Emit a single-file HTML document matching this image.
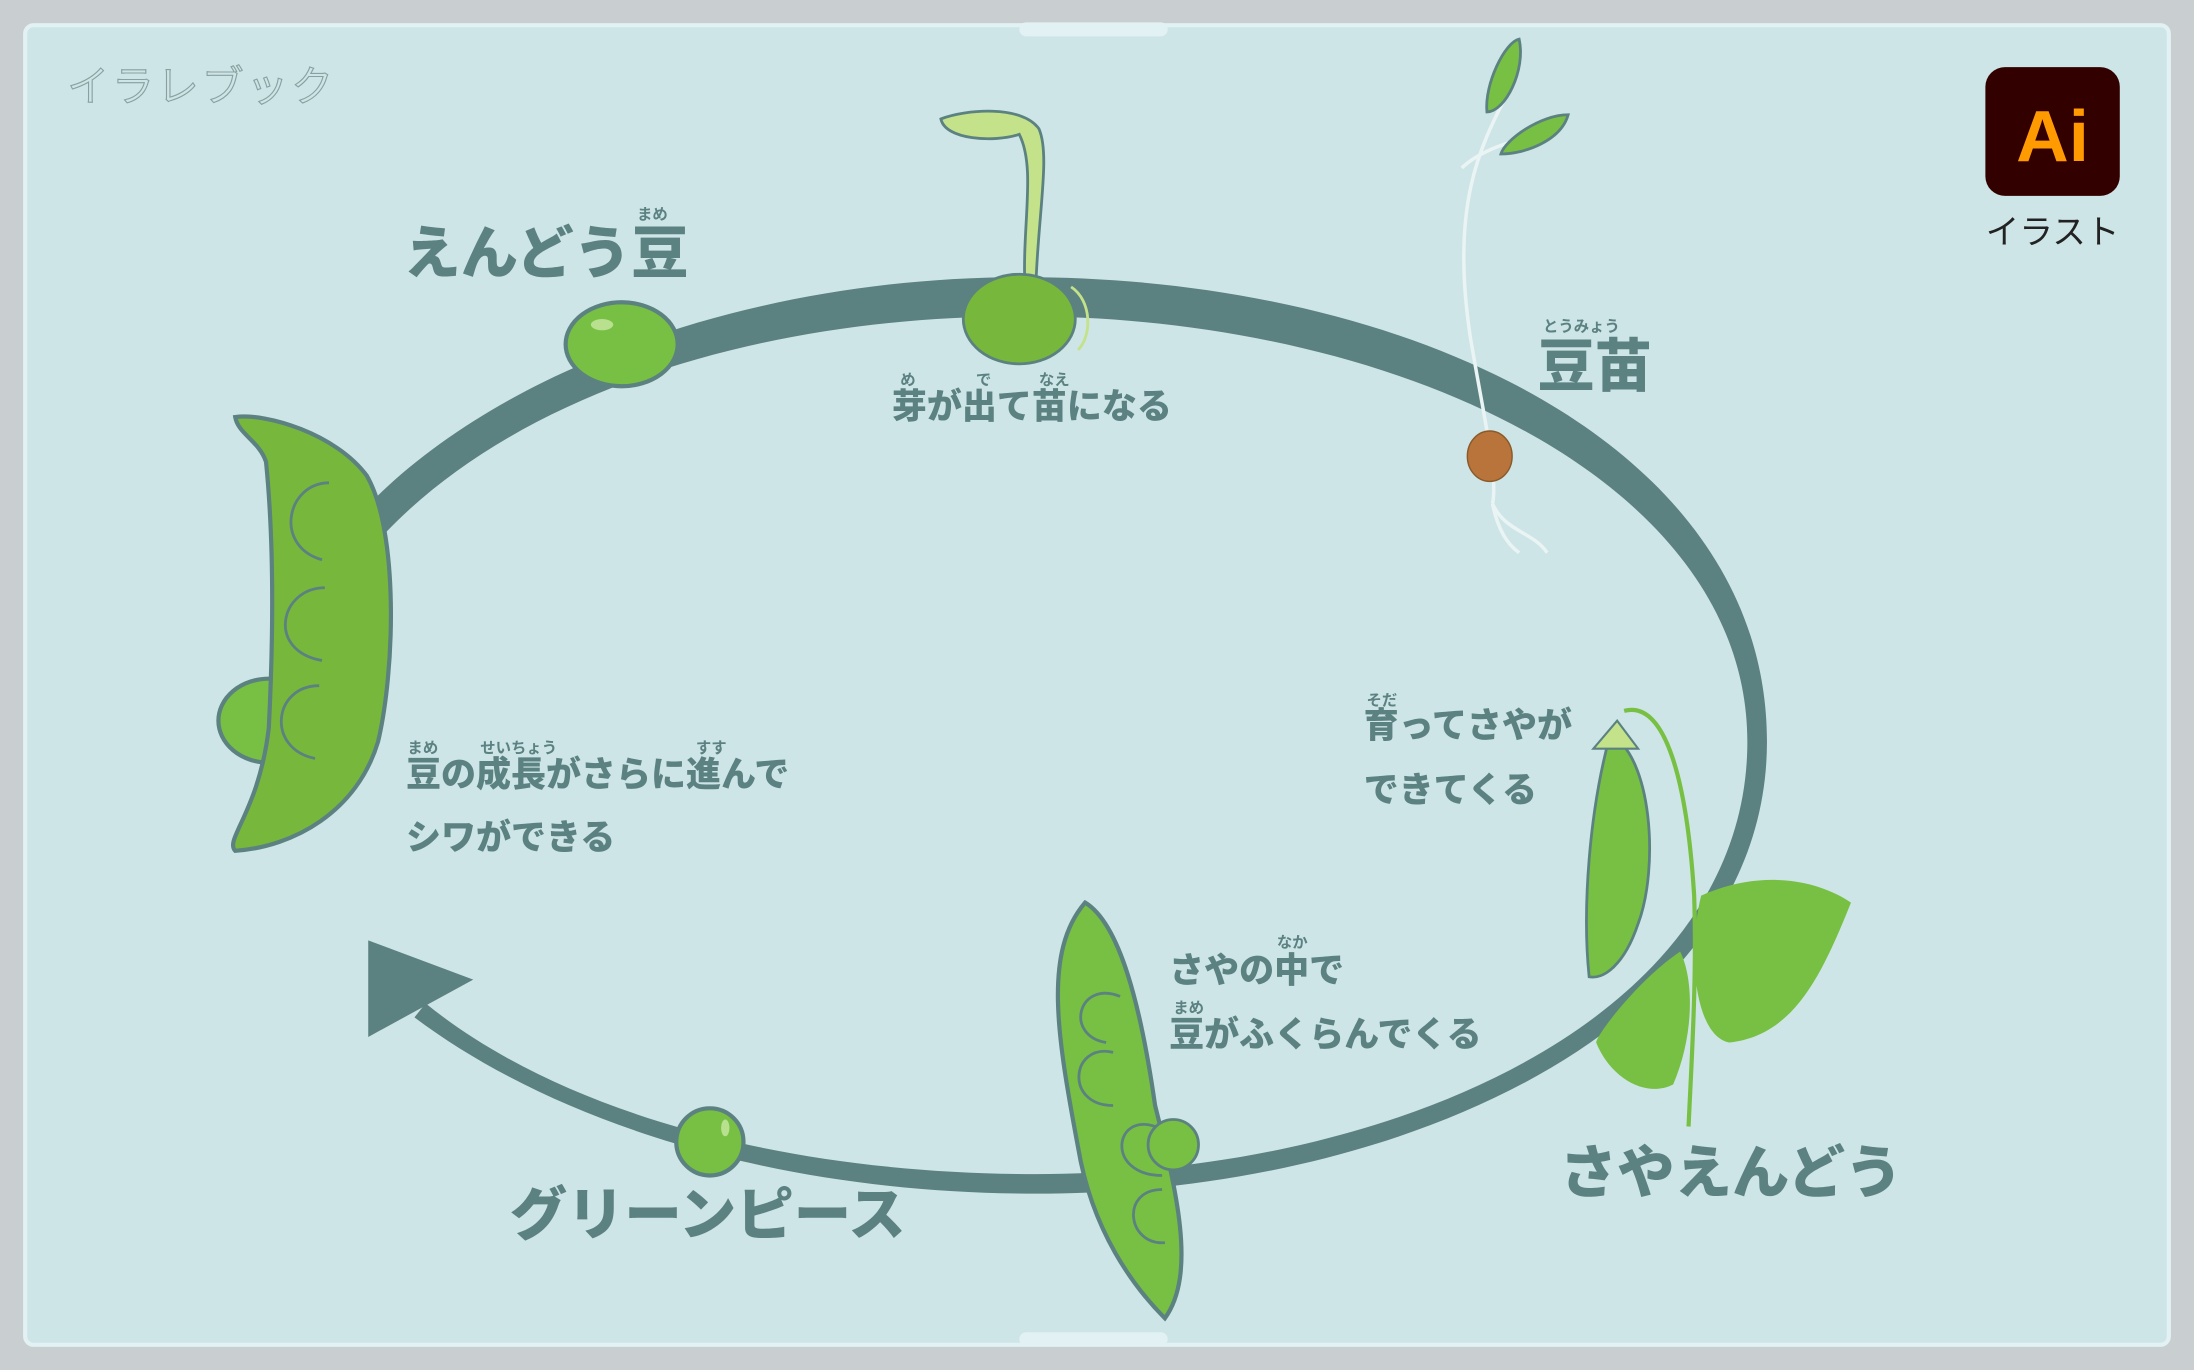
<!DOCTYPE html>
<html><head><meta charset="utf-8"><style>
html,body{margin:0;padding:0;width:2194px;height:1370px;overflow:hidden;background:#c9cfd0}
svg{display:block}
text{font-family:"Liberation Sans","Noto Sans CJK JP",sans-serif}
.t{fill:#5c8181;font-weight:900}
.r{fill:#5c8181;font-size:11px;font-weight:700}
</style></head><body>
<svg width="2194" height="1370" viewBox="0 0 1567 979" preserveAspectRatio="none" xmlns="http://www.w3.org/2000/svg">
<rect x="0" y="0" width="1567" height="979" fill="#c9cfd0"/>
<rect x="18" y="18" width="1531" height="943" rx="6" fill="#cde5e6" stroke="#e2f1f3" stroke-width="3"/>
<rect x="728" y="16" width="106" height="10" rx="5" fill="#e2f1f3"/>
<rect x="728" y="952" width="106" height="10" rx="5" fill="#e2f1f3"/>
<!-- top-left logo -->
<text x="48" y="72" font-size="30" fill="none" stroke="#8aa0a0" stroke-width="0.8" letter-spacing="2">イラレブック</text>
<!-- ring -->
<path d="M264,360 C360,262 540,198 730,198 C1010,198 1262,320 1262,530 C1262,735 1000,853 740,853 C560,853 400,805 296,727 L304,717 C400,795 560,839 740,839 C1000,839 1248,725 1248,530 C1248,345 1000,226 730,226 C540,226 370,282 276,380 Z" fill="#5c8181"/>
<polygon points="263,672 338,700 263,741" fill="#5c8181"/>
<!-- peas -->
<ellipse cx="444" cy="246" rx="40" ry="30" fill="#77c043" stroke="#5c8181" stroke-width="3"/>
<ellipse cx="430" cy="232" rx="8" ry="4" fill="#b8e08e"/>
<circle cx="507" cy="816" r="24" fill="#77c043" stroke="#5c8181" stroke-width="3"/>
<ellipse cx="518" cy="806" rx="3" ry="6" fill="#b8e08e"/>
<!-- sprouting seed -->
<path d="M740,200 C742,150 750,110 742,92 C730,75 690,78 672,85 C675,100 710,102 728,96 C740,120 730,160 732,205" fill="#c3e28a" stroke="#5c8181" stroke-width="2"/>
<ellipse cx="728" cy="228" rx="40" ry="32" fill="#77b83c" stroke="#5c8181" stroke-width="2"/>
<path d="M765,205 C780,215 780,240 770,250" fill="none" stroke="#c3e28a" stroke-width="2"/>
<!-- 豆苗 plant -->
<path d="M1080,60 C1060,100 1035,140 1050,240 C1060,300 1070,340 1066,360 M1066,360 C1075,380 1095,380 1105,395 M1066,360 C1070,380 1078,390 1085,395 M1044,120 C1060,105 1085,100 1100,95" fill="none" stroke="#eaf4f4" stroke-width="2.5"/>
<path d="M1085,28 C1075,30 1060,60 1062,80 C1075,80 1090,50 1085,28Z" fill="#77c043" stroke="#5c8181" stroke-width="2"/>
<path d="M1120,82 C1100,82 1075,100 1072,110 C1090,110 1115,100 1120,82Z" fill="#77c043" stroke="#5c8181" stroke-width="2"/>
<ellipse cx="1064" cy="326" rx="16" ry="18" fill="#b8743a" stroke="#8a5a2a" stroke-width="1"/>
<!-- left pod -->
<ellipse cx="192" cy="515" rx="36" ry="30" fill="#77c043" stroke="#5c8181" stroke-width="3"/>
<path d="M168,298 C190,295 240,310 262,340 C285,380 282,480 270,530 C255,580 210,605 168,608 C160,600 185,580 192,520 C196,440 195,380 190,330 C185,315 170,310 168,298Z" fill="#77b83c" stroke="#5c8181" stroke-width="3"/>
<path d="M235,345 C205,345 195,390 230,400 M232,420 C200,420 190,465 230,472 M228,490 C195,490 190,535 225,542" fill="none" stroke="#5c8181" stroke-width="2"/>
<!-- middle pod -->
<path d="M775,645 C800,660 815,720 825,790 C840,850 855,910 832,942 C810,920 780,880 770,820 C755,740 745,680 775,645Z" fill="#77c043" stroke="#5c8181" stroke-width="3"/>
<circle cx="838" cy="818" r="18" fill="#77c043" stroke="#5c8181" stroke-width="2"/>
<path d="M800,712 C770,700 760,740 790,745 M795,752 C765,745 760,790 795,790 M825,805 C795,795 790,840 830,840 M830,850 C800,850 805,890 832,888" fill="none" stroke="#5c8181" stroke-width="2"/>
<!-- right plant -->
<path d="M1215,640 C1260,620 1300,630 1322,645 C1300,700 1280,740 1235,745 C1210,740 1205,680 1215,640Z" fill="#77c043"/>
<path d="M1200,680 C1170,700 1140,740 1140,745 C1150,770 1175,785 1195,775 C1210,740 1210,700 1200,680Z" fill="#77c043"/>
<path d="M1160,508 C1190,500 1205,560 1210,640 C1212,700 1208,760 1206,805" fill="none" stroke="#77c043" stroke-width="3"/>
<path d="M1150,525 C1180,540 1185,620 1170,660 C1160,690 1145,700 1135,698 C1130,650 1135,580 1150,525Z" fill="#77c043" stroke="#5c8181" stroke-width="2"/>
<path d="M1138,535 L1155,515 L1170,535 Z" fill="#c3e28a" stroke="#5c8181" stroke-width="1.5"/>
<!-- Ai icon -->
<rect x="1418" y="48" width="96" height="92" rx="14" fill="#330000"/>
<text x="1466" y="115" font-size="52" font-weight="700" fill="#ff9a00" text-anchor="middle">Ai</text>
<text x="1466" y="174" font-size="24" fill="#222" text-anchor="middle">イラスト</text>
<!-- titles -->
<text class="t" x="288" y="195" font-size="41">えんどう豆</text>
<text class="r" x="455" y="157">まめ</text>
<text class="t" x="1098" y="276" font-size="41">豆苗</text>
<text class="r" x="1102" y="237">とうみょう</text>
<text class="t" x="1114" y="852" font-size="41">さやえんどう</text>
<text class="t" x="364" y="882" font-size="41">グリーンピース</text>
<!-- descriptions -->
<text class="t" x="637" y="299" font-size="25">芽が出て苗になる</text>
<text class="r" x="643" y="275">め</text><text class="r" x="697" y="275">で</text><text class="r" x="742" y="275">なえ</text>
<text class="t" x="290" y="562" font-size="25">豆の成長がさらに進んで</text>
<text class="r" x="291" y="538">まめ</text><text class="r" x="343" y="538">せいちょう</text><text class="r" x="497" y="538">すす</text>
<text class="t" x="290" y="607" font-size="25">シワができる</text>
<text class="t" x="974" y="527" font-size="25">育ってさやが</text>
<text class="r" x="976" y="504">そだ</text>
<text class="t" x="974" y="573" font-size="25">できてくる</text>
<text class="t" x="835" y="702" font-size="25">さやの中で</text>
<text class="r" x="912" y="677">なか</text>
<text class="t" x="835" y="748" font-size="25">豆がふくらんでくる</text>
<text class="r" x="838" y="724">まめ</text>
</svg>
</body></html>
